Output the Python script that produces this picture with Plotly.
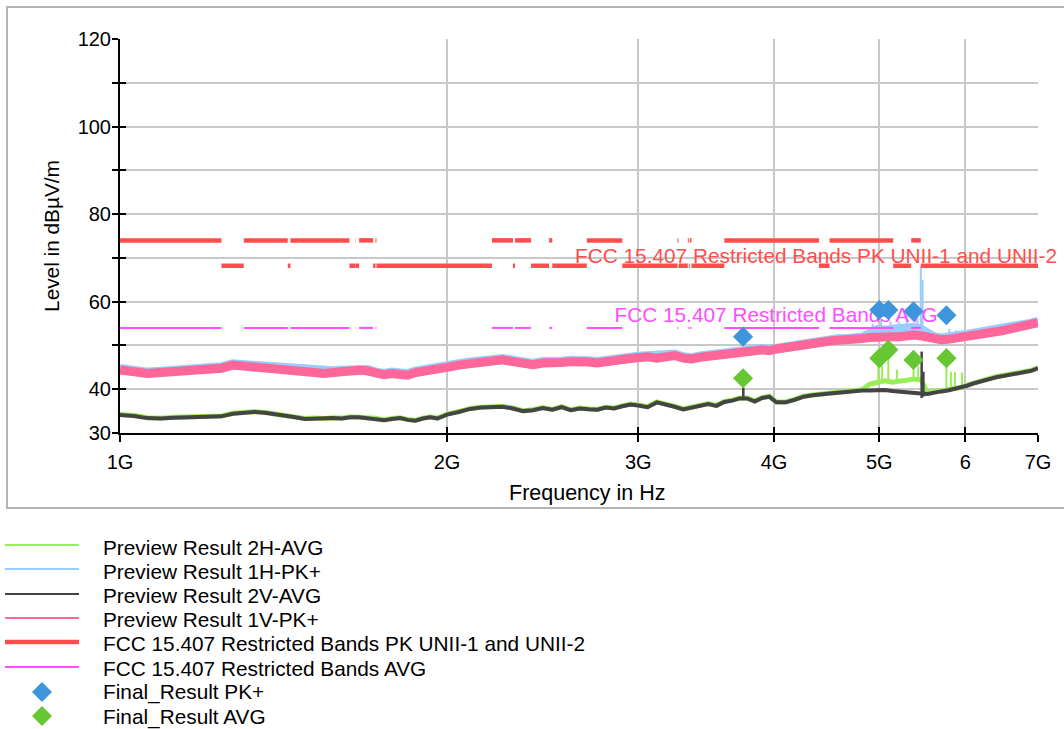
import plotly.graph_objects as go

# ---------------- data ----------------
freq_ghz = [
    1.00, 1.03, 1.06, 1.09, 1.12, 1.15, 1.18, 1.21, 1.24, 1.27,
    1.30, 1.33, 1.36, 1.39, 1.42, 1.45, 1.48, 1.51, 1.54, 1.57,
    1.60, 1.63, 1.66, 1.69, 1.72, 1.75, 1.78, 1.81, 1.84, 1.87,
    1.90, 1.93, 1.96,
    2.00, 2.05, 2.10, 2.15, 2.20, 2.25, 2.30, 2.35, 2.40, 2.45,
    2.50, 2.55, 2.60, 2.65, 2.70, 2.75, 2.80, 2.85, 2.90, 2.95,
    3.00, 3.06, 3.12, 3.18, 3.24, 3.30, 3.36, 3.42, 3.48, 3.54,
    3.60, 3.66, 3.72, 3.78, 3.84, 3.90, 3.96,
    4.02, 4.10, 4.18, 4.26, 4.34, 4.42, 4.50, 4.58, 4.66, 4.74,
    4.82, 4.90, 4.98, 5.06, 5.14, 5.22, 5.30, 5.38, 5.46, 5.54,
    5.62, 5.70, 5.78, 5.86, 5.94, 6.02, 6.10, 6.18, 6.26, 6.34,
    6.42, 6.50, 6.58, 6.66, 6.74, 6.82, 6.90, 7.00,
]

preview_1v_pk = [
    44.4, 44.0, 43.6, 43.8, 44.0, 44.2, 44.4, 44.6, 44.8, 45.5,
    45.3, 45.0, 45.2, 44.8, 44.6, 44.5, 44.2, 43.8, 43.6, 43.9,
    44.0, 44.2, 44.4, 44.2, 43.6, 43.3, 43.6, 43.4, 43.2, 43.8,
    44.0, 44.4, 44.6,
    45.0, 45.5, 45.9, 46.2, 46.5, 46.7, 46.3, 45.9, 45.6, 46.0,
    46.3, 46.1, 46.3, 46.0, 46.2, 46.0, 46.4, 46.6, 46.8, 47.0,
    47.2, 47.4, 47.1, 47.5, 47.7, 47.1, 46.9, 47.3, 47.6, 47.5,
    47.9, 48.1, 48.3, 48.6, 48.8, 49.0, 48.8,
    49.2, 49.6, 49.7, 50.0, 50.4, 50.7, 51.0, 51.2, 51.2, 51.4,
    51.6, 51.8, 52.0, 52.1, 52.0, 52.0, 52.3, 52.4, 52.2, 51.8,
    51.5, 51.3, 51.4, 51.7, 52.0, 52.2, 52.4, 52.6, 52.8, 53.0,
    53.2, 53.4, 53.7, 54.0, 54.2, 54.5, 54.8, 55.2,
]

preview_1h_pk = [
    44.6, 44.2, 43.8, 44.0, 44.2, 44.4, 44.6, 44.8, 45.0, 45.7,
    45.5, 45.2, 45.4, 45.0, 44.8, 44.7, 44.4, 44.0, 43.8, 44.1,
    44.2, 44.4, 44.6, 44.4, 43.8, 43.5, 43.8, 43.6, 43.4, 44.0,
    44.2, 44.6, 44.8,
    45.2, 45.7, 46.1, 46.4, 46.7, 46.9, 46.5, 46.1, 45.8, 46.2,
    46.5, 46.3, 46.5, 46.2, 46.4, 46.2, 46.6, 46.8, 47.0, 47.2,
    47.4, 47.6, 47.3, 47.7, 47.9, 47.3, 47.1, 47.5, 47.8, 47.7,
    48.1, 48.3, 48.5, 48.8, 49.0, 49.2, 49.0,
    49.4, 49.8, 49.9, 50.2, 50.6, 50.9, 51.2, 51.4, 51.4, 51.6,
    51.8, 52.6, 53.5, 53.4, 53.6, 53.3, 53.8, 54.0, 53.6, 52.4,
    51.8, 51.6, 52.0, 52.2, 52.2, 52.4, 52.6, 52.8, 53.0, 53.2,
    53.4, 53.6, 53.9, 54.2, 54.4, 54.7, 55.0, 55.4,
]

preview_2v_avg = [
    34.1, 33.9, 33.4, 33.3, 33.5, 33.6, 33.5, 33.7, 33.8, 34.4,
    34.6, 34.8, 34.6, 34.3, 34.0, 33.6, 33.2, 33.3, 33.2, 33.4,
    33.3, 33.6, 33.6, 33.4, 33.3, 32.9, 33.2, 33.4, 33.0, 32.8,
    33.3, 33.6, 33.3,
    34.2, 34.8, 35.5, 35.8, 35.9, 36.0, 35.6, 35.0, 35.2, 35.7,
    35.3, 35.9, 35.2, 35.6, 35.4, 35.3, 35.8, 35.6, 36.1, 36.5,
    36.3, 35.9, 37.0, 36.6, 36.0, 35.4, 35.8, 36.4, 36.6, 36.2,
    37.1, 37.4, 37.9, 37.9, 37.2, 38.0, 38.3,
    37.0, 37.0, 37.6, 38.3, 38.6, 38.9, 39.0, 39.2, 39.4, 39.5,
    39.7, 39.7, 39.8, 39.8, 39.6, 39.4, 39.3, 39.1, 39.0, 38.9,
    39.3, 39.5, 39.7, 40.0, 40.3, 40.8, 41.3, 41.7, 42.1, 42.5,
    42.8, 43.0, 43.2, 43.4, 43.6, 43.9, 44.2, 44.8,
]

preview_2h_avg = [
    34.2, 34.0, 33.5, 33.4, 33.6, 33.7, 33.6, 33.8, 33.9, 34.5,
    34.7, 34.9, 34.7, 34.4, 34.1, 33.7, 33.3, 33.4, 33.3, 33.5,
    33.4, 33.7, 33.7, 33.5, 33.4, 33.0, 33.3, 33.5, 33.1, 32.9,
    33.4, 33.7, 33.4,
    34.3, 34.9, 35.6, 35.9, 36.0, 36.1, 35.7, 35.1, 35.3, 35.8,
    35.4, 36.0, 35.3, 35.7, 35.5, 35.4, 35.9, 35.7, 36.2, 36.6,
    36.4, 36.0, 37.1, 36.7, 36.1, 35.5, 35.9, 36.5, 36.7, 36.3,
    37.2, 37.5, 38.0, 38.0, 37.3, 38.1, 38.4,
    37.1, 37.1, 37.7, 38.4, 38.7, 39.0, 39.1, 39.3, 39.5, 39.6,
    39.9, 41.2, 41.7, 41.9, 41.6, 41.8, 41.9, 42.3, 42.2, 39.2,
    39.4, 39.6, 39.8, 40.1, 40.4, 40.9, 41.4, 41.8, 42.2, 42.6,
    42.9, 43.1, 43.3, 43.5, 43.7, 44.0, 44.3, 44.9,
]

# narrow spikes of the preview scans (frequency GHz, foot level, top level)
spike_1h_freq = [4.93, 5.02, 5.12, 5.21, 5.30, 5.42, 5.46, 5.48, 5.80, 5.88]
spike_1h_base = [52.0, 52.5, 52.5, 52.5, 52.5, 52.5, 52.2, 52.2, 51.6, 51.8]
spike_1h_top = [55.0, 56.0, 55.5, 55.5, 57.0, 56.5, 68.0, 65.0, 53.8, 53.5]

spike_2h_freq = [3.748, 4.99, 5.03, 5.097, 5.19, 5.376, 5.43, 5.765, 5.82, 5.87, 5.96]
spike_2h_base = [38.0, 41.6, 41.8, 41.8, 41.8, 42.2, 42.2, 39.7, 39.9, 40.0, 40.4]
spike_2h_top = [42.5, 47.1, 45.5, 49.0, 44.5, 46.7, 45.2, 47.1, 44.0, 44.0, 43.8]

spike_2v_freq = [3.748, 5.47, 5.49]
spike_2v_base = [38.0, 38.0, 38.3]
spike_2v_top = [40.3, 48.6, 44.0]

# final measurements
final_freq_ghz = [3.746, 5.000, 5.097, 5.376, 5.765]
final_pk = [52.0, 58.1, 58.1, 57.8, 56.9]
final_avg = [42.5, 47.1, 49.0, 46.7, 47.1]

# FCC 15.205 restricted bands (GHz) and limits
band_lo = [0.96, 1.300, 1.435, 1.6455, 1.660, 1.7188, 2.200, 2.310, 2.4835,
           2.690, 3.260, 3.332, 3.3458, 3.600, 4.500, 5.350]
band_hi = [1.24, 1.427, 1.6265, 1.6465, 1.710, 1.7222, 2.300, 2.390, 2.500,
           2.900, 3.267, 3.339, 3.358, 4.400, 5.150, 5.460]
limit_pk_restricted = 74.0
limit_pk_unii = 68.2
limit_avg_restricted = 54.0
scan_stop_ghz = 7.25

x_tick_ghz = [1, 2, 3, 4, 5, 6, 7]
x_tick_text = ["1G", "2G", "3G", "4G", "5G", "6", "7G"]
y_ticks = [30, 40, 50, 60, 70, 80, 90, 100, 110, 120]
y_tick_text = ["30", "40", "", "60", "", "80", "", "100", "", "120"]

names = [
    "Preview Result 2H-AVG",
    "Preview Result 1H-PK+",
    "Preview Result 2V-AVG",
    "Preview Result 1V-PK+",
    "FCC 15.407 Restricted Bands PK UNII-1 and UNII-2",
    "FCC 15.407 Restricted Bands AVG",
    "Final_Result PK+",
    "Final_Result AVG",
]
x_title = "Frequency in Hz"
y_title = "Level in dBµV/m"

# ---------------- styling ----------------
W, H = 1064, 729
FONT = "Liberation Sans, Arial, Helvetica, sans-serif"
C_2H = "#99ee55"
C_1H = "#99ccff"
C_2V = "#444444"
C_1V = "#ff6699"
C_PK = "#ff4d4d"
C_AVG = "#ff4dff"
C_FPK = "#3d96db"
C_FAVG = "#66c633"

GHZ = 1e9
hz = [f * GHZ for f in freq_ghz]


def spikes(fs, lo, hi):
    xs, ys = [], []
    for f, a, b in zip(fs, lo, hi):
        xs += [f * GHZ, f * GHZ, None]
        ys += [a, b, None]
    return xs, ys


def band_segments(lo, hi, level):
    xs, ys = [], []
    for a, b in zip(lo, hi):
        xs += [a * GHZ, b * GHZ, None]
        ys += [level, level, None]
    return xs, ys


def gap_segments(lo, hi, stop, level):
    xs, ys = [], []
    starts = hi
    ends = lo[1:] + [stop]
    for a, b in zip(starts, ends):
        xs += [a * GHZ, b * GHZ, None]
        ys += [level, level, None]
    return xs, ys


fig = go.Figure()

# preview scans (drawn in legend order)
fig.add_trace(go.Scatter(x=hz, y=preview_2h_avg, mode="lines",
                         line=dict(color=C_2H, width=5), name=names[0]))
sx, sy = spikes(spike_2h_freq, spike_2h_base, spike_2h_top)
fig.add_trace(go.Scatter(x=sx, y=sy, mode="lines", line=dict(color=C_2H, width=2)))

fig.add_trace(go.Scatter(x=hz, y=preview_1h_pk, mode="lines",
                         line=dict(color=C_1H, width=10), name=names[1]))
sx, sy = spikes(spike_1h_freq, spike_1h_base, spike_1h_top)
fig.add_trace(go.Scatter(x=sx, y=sy, mode="lines", line=dict(color=C_1H, width=2)))

fig.add_trace(go.Scatter(x=hz, y=preview_2v_avg, mode="lines",
                         line=dict(color=C_2V, width=4), name=names[2]))
sx, sy = spikes(spike_2v_freq, spike_2v_base, spike_2v_top)
fig.add_trace(go.Scatter(x=sx, y=sy, mode="lines", line=dict(color=C_2V, width=2.5)))

fig.add_trace(go.Scatter(x=hz, y=preview_1v_pk, mode="lines",
                         line=dict(color=C_1V, width=9), name=names[3]))

# limit lines
lx, ly = band_segments(band_lo, band_hi, limit_pk_restricted)
gx, gy = gap_segments(band_lo, band_hi, scan_stop_ghz, limit_pk_unii)
fig.add_trace(go.Scatter(x=lx + gx, y=ly + gy, mode="lines",
                         line=dict(color=C_PK, width=4.5), name=names[4]))
ax, ay = band_segments(band_lo, band_hi, limit_avg_restricted)
fig.add_trace(go.Scatter(x=ax, y=ay, mode="lines",
                         line=dict(color=C_AVG, width=2), name=names[5]))

# AVG limit label (below the final-result diamonds)
fig.add_trace(go.Scatter(x=[5.66 * GHZ], y=[56.5], mode="text",
                         text=[names[5]], textposition="middle left",
                         textfont=dict(color=C_AVG, size=20.8, family=FONT),
                         cliponaxis=False))

# final results on overlay axes (drawn above everything)
fig.add_trace(go.Scatter(x=[f * GHZ for f in final_freq_ghz], y=final_pk, mode="markers",
                         marker=dict(symbol="diamond", size=15.5, color=C_FPK, line_width=0),
                         name=names[6], xaxis="x2", yaxis="y2"))
fig.add_trace(go.Scatter(x=[f * GHZ for f in final_freq_ghz], y=final_avg, mode="markers",
                         marker=dict(symbol="diamond", size=15.5, color=C_FAVG, line_width=0),
                         name=names[7], xaxis="x2", yaxis="y2"))

# ---------------- layout ----------------
x_dom = [120 / W, 1038 / W]
y_dom = [1 - 433 / H, 1 - 39 / H]
xr = [9.0, 9.845098]
yr = [30, 120]
tickvals_x = [t * GHZ for t in x_tick_ghz]

fig.update_layout(
    width=W, height=H,
    margin=dict(l=0, r=0, t=0, b=0),
    paper_bgcolor="white", plot_bgcolor="white",
    showlegend=False,
    font=dict(family=FONT, size=20, color="black"),
    xaxis=dict(
        type="log", range=xr, domain=x_dom, anchor="y",
        tickvals=tickvals_x, ticktext=x_tick_text,
        showgrid=True, gridcolor="#c8c8c8", gridwidth=2,
        showline=True, linecolor="black", linewidth=2,
        ticks="outside", ticklen=7, tickwidth=2, tickcolor="black",
        tickfont=dict(size=20), ticklabelstandoff=3,
        zeroline=False, automargin=False,
    ),
    yaxis=dict(
        range=yr, domain=y_dom, anchor="x",
        tickvals=y_ticks, ticktext=y_tick_text,
        showgrid=True, gridcolor="#c8c8c8", gridwidth=2,
        showline=True, linecolor="black", linewidth=2,
        ticks="outside", ticklen=6, tickwidth=2, tickcolor="black",
        tickfont=dict(size=20), ticklabelstandoff=-3,
        zeroline=False, automargin=False,
        title=dict(text=y_title, font=dict(size=20.8), standoff=12),
    ),
    xaxis2=dict(
        type="log", range=xr, overlaying="x", anchor="y2",
        tickvals=tickvals_x, showticklabels=False,
        showgrid=False, showline=False, zeroline=False,
        ticks="inside", ticklen=6, tickwidth=2, tickcolor="black",
    ),
    yaxis2=dict(
        range=yr, overlaying="y", anchor="x2",
        tickvals=y_ticks, showticklabels=False,
        showgrid=False, showline=False, zeroline=False,
        ticks="inside", ticklen=6, tickwidth=2, tickcolor="black",
    ),
)

shapes = []
# outer frame
shapes.append(dict(type="rect", xref="paper", yref="paper",
                   x0=7 / W, x1=1.01, y0=1 - 508 / H, y1=1 - 7 / H,
                   line=dict(color="#b4b4b4", width=2), fillcolor="rgba(0,0,0,0)",
                   layer="below"))

# manual legend below the frame
leg_line_y = [545, 569, 594, 618, 642, 667]
leg_colors = [C_2H, C_1H, C_2V, C_1V, C_PK, C_AVG]
leg_widths = [2, 2, 2, 2, 4.5, 2]
for yy, cc, ww in zip(leg_line_y, leg_colors, leg_widths):
    shapes.append(dict(type="line", xref="paper", yref="paper",
                       x0=5 / W, x1=79 / W, y0=1 - yy / H, y1=1 - yy / H,
                       line=dict(color=cc, width=ww)))
for yy, cc in zip([692, 716], [C_FPK, C_FAVG]):
    shapes.append(dict(type="path", xref="paper", yref="paper",
                       xsizemode="pixel", ysizemode="pixel",
                       xanchor=42 / W, yanchor=1 - yy / H,
                       path="M -10 0 L 0 10 L 10 0 L 0 -10 Z",
                       fillcolor=cc, line=dict(width=0)))
fig.update_layout(shapes=shapes)

leg_text_y = [547, 571, 595, 619, 643, 668, 692, 717]
for yy, nm in zip(leg_text_y, names):
    fig.add_annotation(x=101 / W, y=1 - yy / H, xref="paper", yref="paper",
                       text=nm, showarrow=False, xanchor="left", yanchor="middle",
                       font=dict(size=20.8, color="black", family=FONT))

# PK limit label (extends past the right end of the axis, as in the reference)
fig.add_annotation(x=1059 / W, y=1 - 255 / H, xref="paper", yref="paper",
                   text=names[4], showarrow=False, xanchor="right", yanchor="middle",
                   font=dict(size=20.8, color=C_PK, family=FONT))

# x-axis title, centred where the reference has it
fig.add_annotation(x=587 / W, y=1 - 493 / H, xref="paper", yref="paper",
                   text=x_title, showarrow=False, xanchor="center", yanchor="middle",
                   font=dict(size=21.5, color="black", family=FONT))

fig.write_html("out.html", config={"displayModeBar": False},
               post_script="document.body.style.margin='0px';")
